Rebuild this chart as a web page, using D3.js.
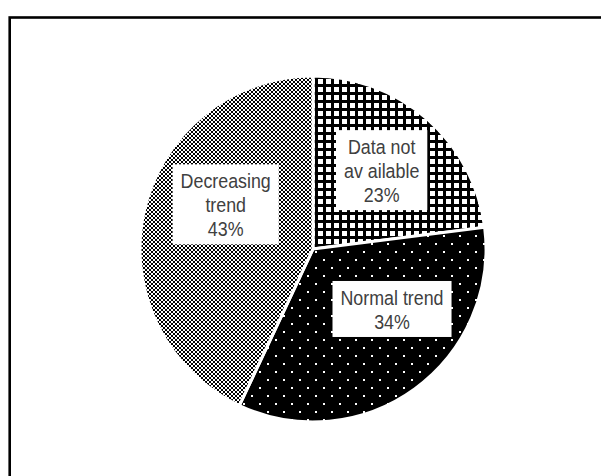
<!DOCTYPE html>
<html><head><meta charset="utf-8">
<script src="https://cdn.jsdelivr.net/npm/d3@7"></script>
<style>html,body{margin:0;padding:0;background:#fff;overflow:hidden}</style>
</head><body>
<svg id="c" width="601" height="476"></svg>
<script>
const categories = ["Data not available", "Normal trend", "Decreasing trend"];
const labelLines = [["Data not", "av ailable"], ["Normal trend"], ["Decreasing", "trend"]];
const values = [23, 34, 43];
const percentLabels = ["23%", "34%", "43%"];

const svg = d3.select("#c");
const cx = 313, cy = 249, R = 173;

// frame
svg.append("rect").attr("x", 9.7).attr("y", 17.5).attr("width", 700).attr("height", 600)
  .attr("fill", "none").attr("stroke", "#000").attr("stroke-width", 2.6);

const defs = svg.append("defs");
// grid pattern
const p1 = defs.append("pattern").attr("id", "grid").attr("patternUnits", "userSpaceOnUse")
  .attr("width", 8).attr("height", 8).attr("x", cx + 1).attr("y", 75);
p1.append("rect").attr("width", 8).attr("height", 8).attr("fill", "#fff");
p1.append("rect").attr("x", 0).attr("y", 0).attr("width", 3).attr("height", 8).attr("fill", "#000");
p1.append("rect").attr("x", 0).attr("y", 0).attr("width", 8).attr("height", 3).attr("fill", "#000");
// dots pattern
const p2 = defs.append("pattern").attr("id", "dots").attr("patternUnits", "userSpaceOnUse")
  .attr("width", 16).attr("height", 16).attr("x", 2).attr("y", 2);
p2.append("rect").attr("width", 16).attr("height", 16).attr("fill", "#000");
p2.append("rect").attr("x", 0).attr("y", 0).attr("width", 2).attr("height", 2).attr("fill", "#fff");
p2.append("rect").attr("x", 8).attr("y", 8).attr("width", 2).attr("height", 2).attr("fill", "#fff");
// checker pattern
const p3 = defs.append("pattern").attr("id", "checker").attr("patternUnits", "userSpaceOnUse")
  .attr("width", 4).attr("height", 4);
p3.append("rect").attr("width", 4).attr("height", 4).attr("fill", "#fff");
p3.append("rect").attr("x", 0).attr("y", 0).attr("width", 2).attr("height", 2).attr("fill", "#000");
p3.append("rect").attr("x", 2).attr("y", 2).attr("width", 2).attr("height", 2).attr("fill", "#000");

const fills = ["url(#grid)", "url(#dots)", "url(#checker)"];

const pie = d3.pie().sort(null).value(d => d)(values);
const arc = d3.arc().innerRadius(0).outerRadius(R);
const labelArc = d3.arc().innerRadius(R * 0.6).outerRadius(R * 0.6);
// best-fit nudges relative to label arc centroid
const nudges = [[0, -1], [18, -24], [14, -22]];

const g = svg.append("g").attr("transform", `translate(${cx},${cy})`);
g.selectAll("path.slice").data(pie).join("path").attr("class", "slice")
  .attr("d", arc).attr("fill", (d, i) => fills[i])
  .attr("stroke", "#fff").attr("stroke-width", 3).attr("stroke-linejoin", "miter");

const lh = 24, sx = 0.87;
pie.forEach((d, i) => {
  const [x0, y0] = labelArc.centroid(d);
  const x = x0 + nudges[i][0], y = y0 + nudges[i][1];
  const lines = labelLines[i].concat([percentLabels[i]]);
  const lg = g.append("g").attr("transform", `translate(${x},${y})`);
  const box = lg.append("rect").attr("fill", "#fff");
  const t = lg.append("text").attr("text-anchor", "middle")
    .attr("transform", `scale(${sx},1)`)
    .attr("font-family", "Liberation Sans, Arial, sans-serif").attr("font-size", 20.5)
    .attr("fill", "#404040");
  const n = lines.length;
  lines.forEach((s, k) => {
    t.append("tspan").attr("x", 0).attr("y", (k - (n - 1) / 2) * lh + 8).text(s);
  });
  const bb = t.node().getBBox();
  const w = bb.width * sx;
  const padX = 8, h = n * lh + 8;
  box.attr("x", -w / 2 - padX).attr("y", -h / 2)
    .attr("width", w + 2 * padX).attr("height", h);
});
</script>
</body></html>
